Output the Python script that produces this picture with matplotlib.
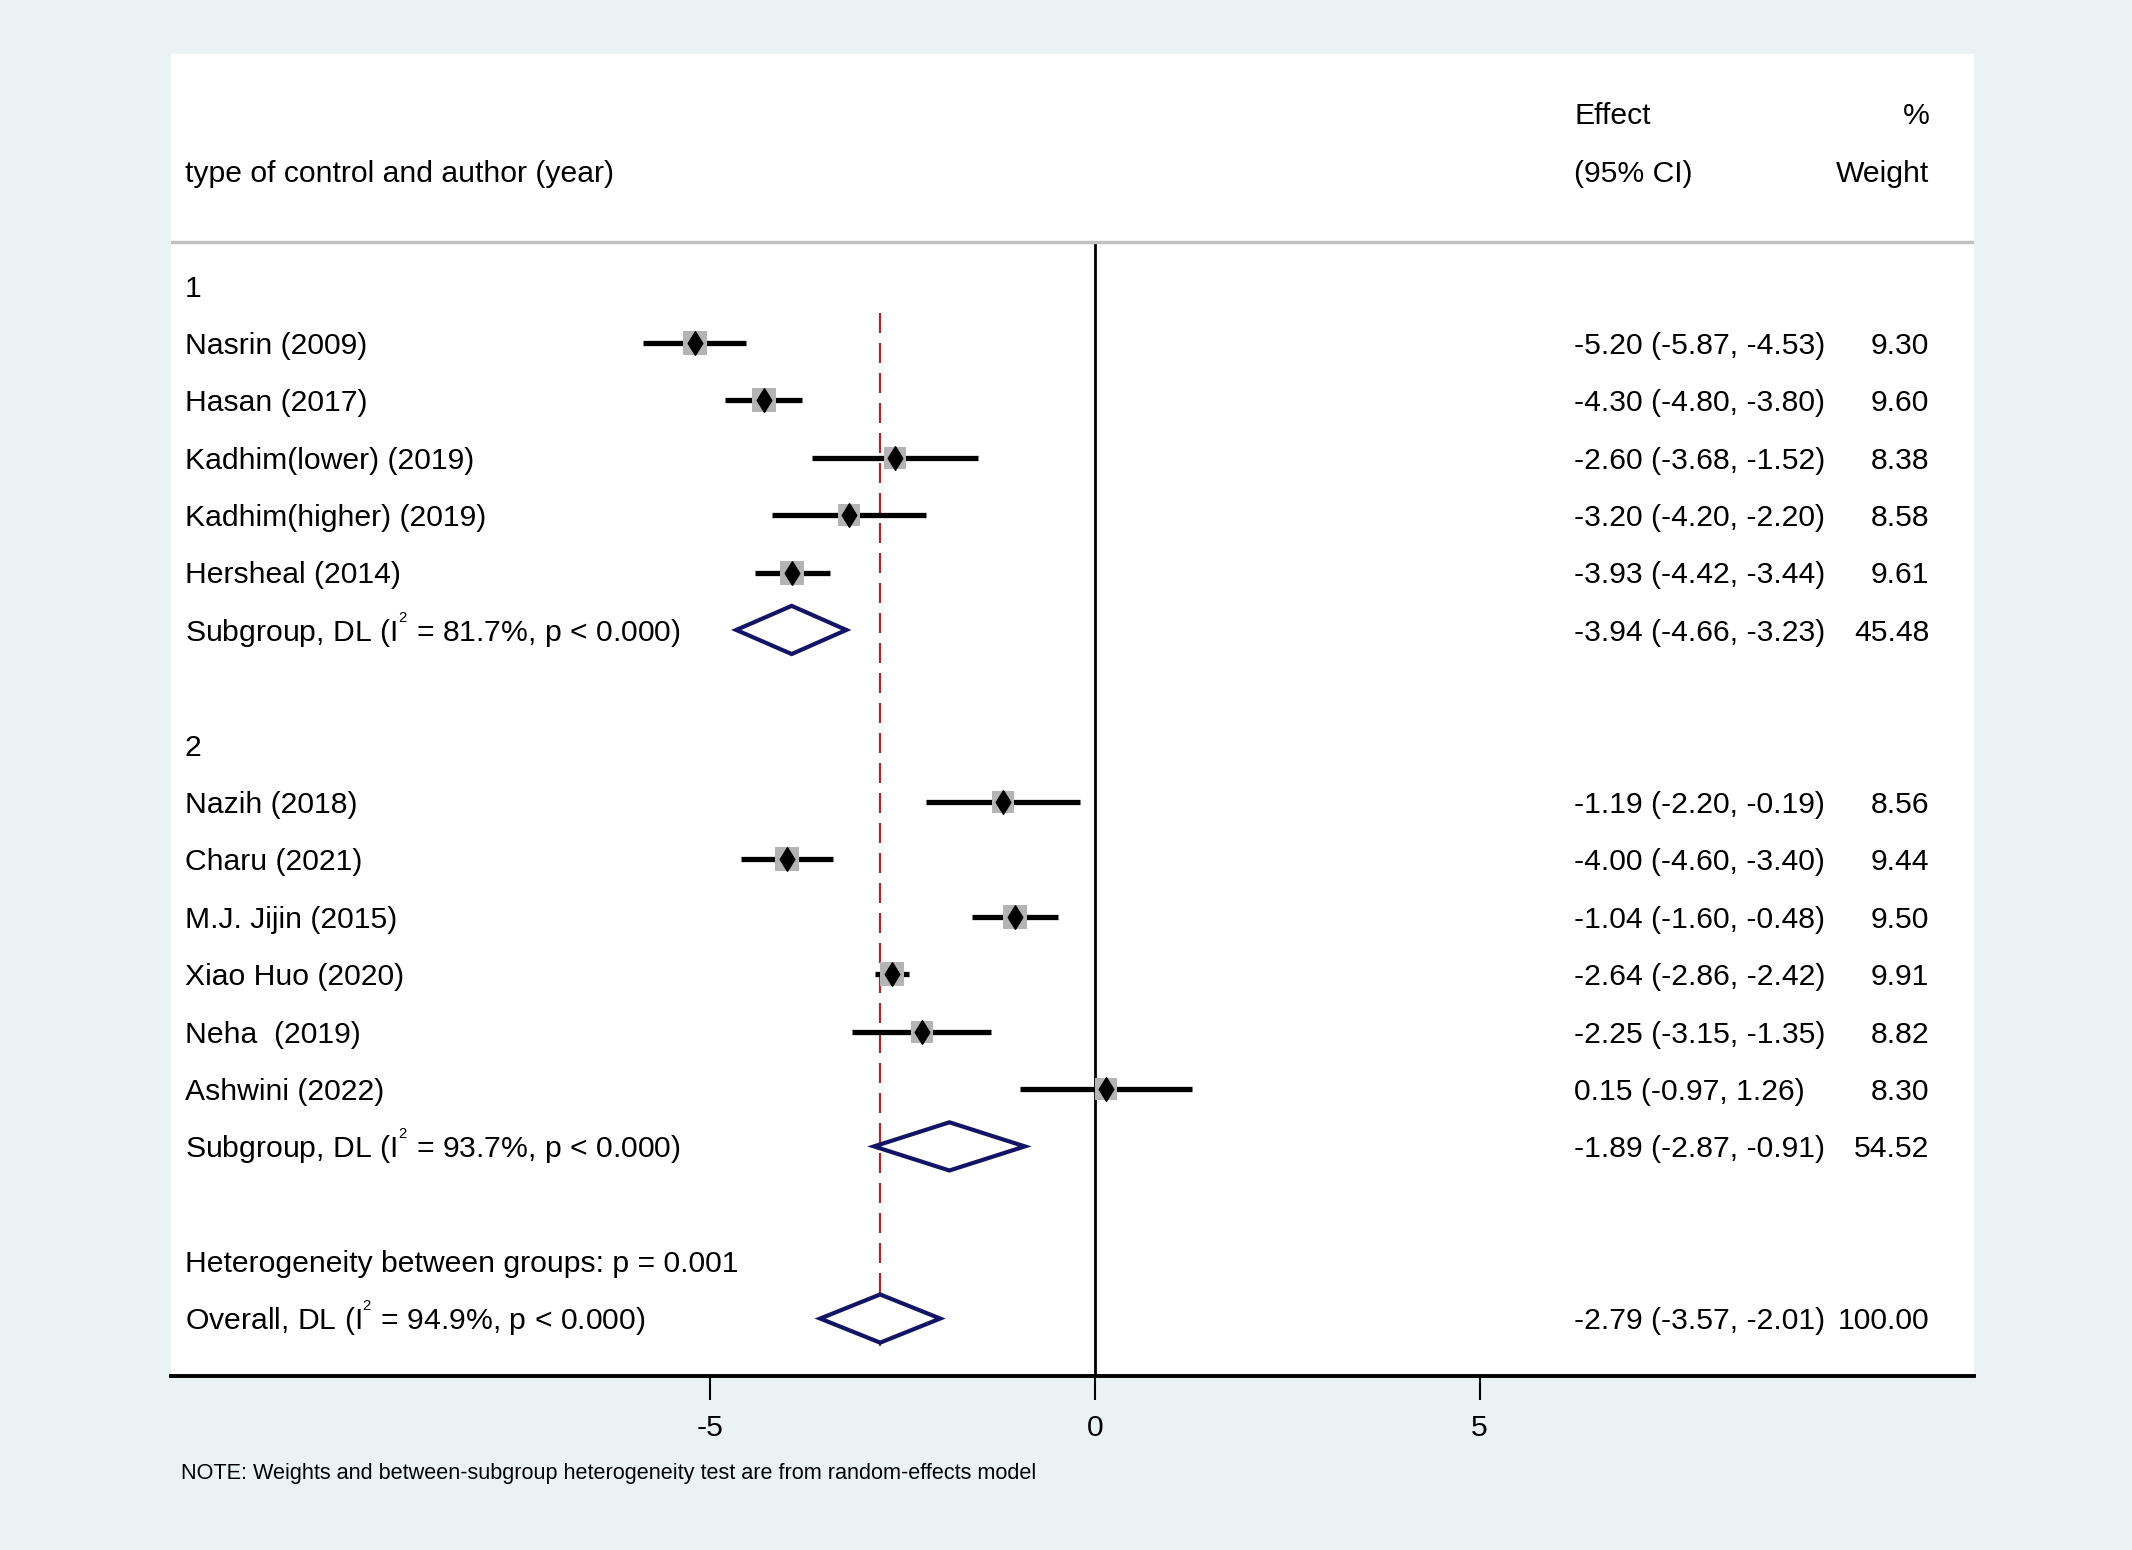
import matplotlib
matplotlib.use("Agg")
import matplotlib.pyplot as plt
from matplotlib.path import Path

plt.rcParams['font.family'] = ['Liberation Sans', 'DejaVu Sans']
plt.rcParams['mathtext.fontset'] = 'custom'
plt.rcParams['mathtext.rm'] = 'Liberation Sans'
plt.rcParams['mathtext.it'] = 'Liberation Sans'

# study data
group1_names = ["Nasrin (2009)", "Hasan (2017)", "Kadhim(lower) (2019)",
                "Kadhim(higher) (2019)", "Hersheal (2014)"]
group1_est = [-5.20, -4.30, -2.60, -3.20, -3.93]
group1_lo = [-5.87, -4.80, -3.68, -4.20, -4.42]
group1_hi = [-4.53, -3.80, -1.52, -2.20, -3.44]
group1_w = [9.30, 9.60, 8.38, 8.58, 9.61]

group2_names = ["Nazih (2018)", "Charu (2021)", "M.J. Jijin (2015)",
                "Xiao Huo (2020)", "Neha  (2019)", "Ashwini (2022)"]
group2_est = [-1.19, -4.00, -1.04, -2.64, -2.25, 0.15]
group2_lo = [-2.20, -4.60, -1.60, -2.86, -3.15, -0.97]
group2_hi = [-0.19, -3.40, -0.48, -2.42, -1.35, 1.26]
group2_w = [8.56, 9.44, 9.50, 9.91, 8.82, 8.30]

# pooled: subgroup 1, subgroup 2, overall
pooled_labels = ["Subgroup, DL (I$^{^2}$ = 81.7%, p < 0.000)",
                 "Subgroup, DL (I$^{^2}$ = 93.7%, p < 0.000)",
                 "Overall, DL (I$^{^2}$ = 94.9%, p < 0.000)"]
pooled_est = [-3.94, -1.89, -2.79]
pooled_lo = [-4.66, -2.87, -3.57]
pooled_hi = [-3.23, -0.91, -2.01]
pooled_w = [45.48, 54.52, 100.00]

het_text = "Heterogeneity between groups: p = 0.001"
note_text = "NOTE: Weights and between-subgroup heterogeneity test are from random-effects model"
xticks = [-5, 0, 5]

BG = "#eaf2f3"
NAVY = "#141466"
FS = 21.7
DY = 0.05  # small downward nudge so text sits like the reference

fig = plt.figure(figsize=(21.32, 15.5), dpi=100, facecolor=BG)
ax = fig.add_axes([0.0804, 0.1123, 0.8457, 0.8526])
ax.set_facecolor("white")
ax.set_xlim(-12.0, 11.43)
ax.set_ylim(19.0, -4.03)
for s in ["top", "left", "right"]:
    ax.spines[s].set_visible(False)
ax.spines["bottom"].set_linewidth(2.8)
ax.set_yticks([])
ax.set_xticks(xticks)
ax.set_xticklabels([str(t) for t in xticks], fontsize=FS)
ax.tick_params(axis="x", length=17, width=1.5, pad=10.5)

tx = ax.get_yaxis_transform()  # x in axes fraction, y in data
X_LAB, X_EFF, X_W = 0.0075, 0.778, 0.975


def put(x, row, s, dy=DY, **kw):
    ax.text(x, row + dy, s, transform=tx, fontsize=FS, va="center", **kw)


# headers
put(X_LAB, -2, "type of control and author (year)")
put(X_EFF, -3, "Effect")
put(X_EFF, -2, "(95% CI)")
put(X_W, -3, "%", ha="right")
put(X_W, -2, "Weight", ha="right")
ax.axhline(-0.76, color="#c0c0c0", lw=2.5)

# reference lines
ax.plot([0, 0], [-0.76, 19.0], color="black", lw=2, zorder=1)
ln, = ax.plot([pooled_est[2], pooled_est[2]], [0.47, 18.48], color="#a12a2f", lw=1.6, zorder=1)
ln.set_dashes((9.0, 4.5))

diamond = Path([(0, 1), (0.62, 0), (0, -1), (-0.62, 0), (0, 1)],
               [Path.MOVETO, Path.LINETO, Path.LINETO, Path.LINETO, Path.CLOSEPOLY])


def draw_study(row, name, est, lo, hi, w):
    put(X_LAB, row, name)
    ax.plot([lo, hi], [row, row], color="black", lw=3.8, solid_capstyle="butt", zorder=2)
    ax.scatter([est], [row], marker="s", s=30 * w, color="#b4b4b4", zorder=3, linewidths=0)
    ax.plot([est], [row], marker=diamond, markersize=17, color="black", zorder=4, linestyle="none")
    put(X_EFF, row, f"{est:.2f} ({lo:.2f}, {hi:.2f})")
    put(X_W, row, f"{w:.2f}", ha="right")


def draw_pooled(row, label, est, lo, hi, w):
    put(X_LAB, row, label, dy=0.0)
    h = 0.42
    ax.fill([lo, est, hi, est, lo], [row, row - h, row, row + h, row],
            facecolor="white", edgecolor=NAVY, lw=3, zorder=3)
    put(X_EFF, row, f"{est:.2f} ({lo:.2f}, {hi:.2f})")
    put(X_W, row, f"{w:.2f}", ha="right")


put(X_LAB, 0, "1")
for i in range(len(group1_names)):
    draw_study(1 + i, group1_names[i], group1_est[i], group1_lo[i], group1_hi[i], group1_w[i])
draw_pooled(6, pooled_labels[0], pooled_est[0], pooled_lo[0], pooled_hi[0], pooled_w[0])

put(X_LAB, 8, "2")
for i in range(len(group2_names)):
    draw_study(9 + i, group2_names[i], group2_est[i], group2_lo[i], group2_hi[i], group2_w[i])
draw_pooled(15, pooled_labels[1], pooled_est[1], pooled_lo[1], pooled_hi[1], pooled_w[1])

put(X_LAB, 17, het_text)
draw_pooled(18, pooled_labels[2], pooled_est[2], pooled_lo[2], pooled_hi[2], pooled_w[2])

fig.text(0.0848, 0.0491, note_text, fontsize=15.6, va="center")

fig.savefig("out.png", dpi=100, facecolor=BG)
